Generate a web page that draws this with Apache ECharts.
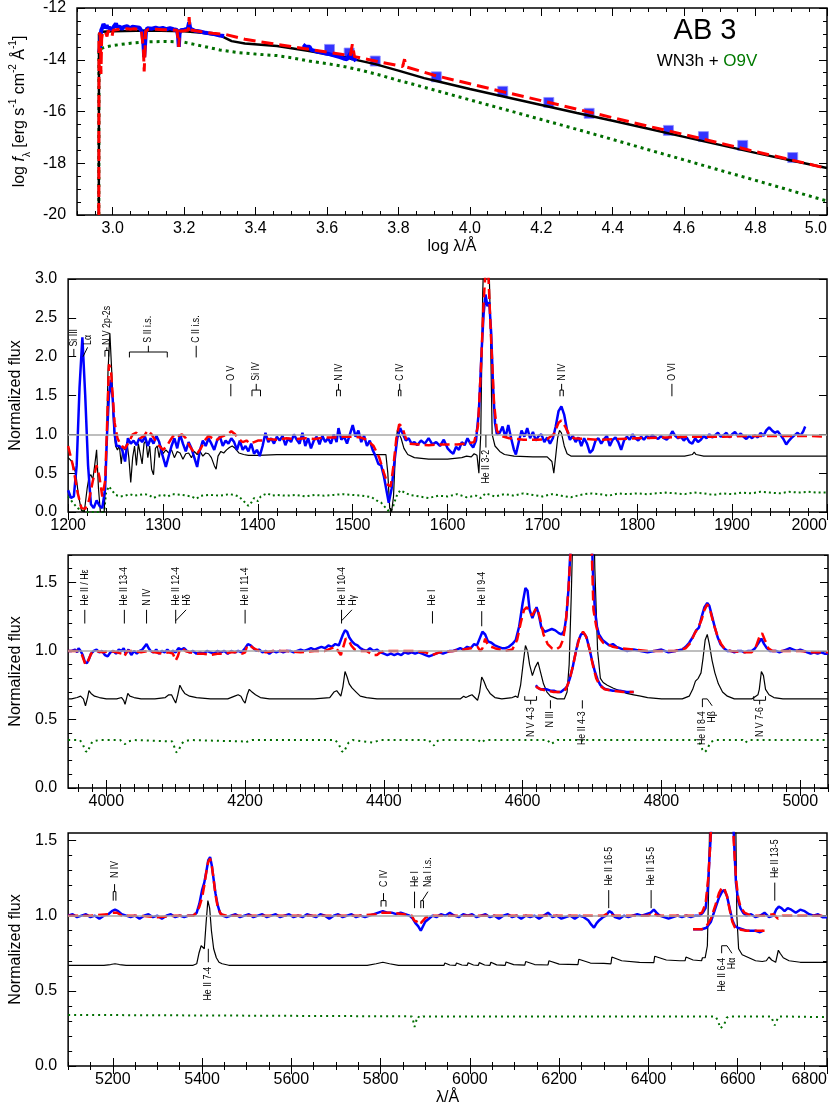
<!DOCTYPE html>
<html>
<head>
<meta charset="utf-8">
<script src="https://cdn.jsdelivr.net/npm/echarts@6.0.0/dist/echarts.min.js"></script>
<style>html,body{margin:0;padding:0;background:#fff}#main{width:830px;height:1110px}</style>
</head>
<body>
<div id="main"></div>
<script>
// ---------- panel 1 : SED, log lambda vs log f ----------
var sedBlueUV = [[2.962,-13.7],[2.964,-13.55],[2.966,-13.05],[2.968,-12.85],[2.971,-12.75],[2.974,-12.62],[2.977,-12.7],[2.98,-12.78],[2.983,-12.66],[2.986,-12.8],[2.989,-12.72],[2.992,-12.84],[2.995,-12.75],[2.998,-12.86],[3.001,-12.76],[3.005,-12.68],[3.009,-12.6],[3.013,-12.74],[3.017,-12.8],[3.021,-12.72],[3.025,-12.82],[3.03,-12.74],[3.035,-12.79],[3.04,-12.7],[3.045,-12.76],[3.05,-12.8],[3.055,-12.72],[3.06,-12.78],[3.065,-12.74],[3.07,-12.8],[3.075,-12.76],[3.08,-12.8],[3.083,-12.95],[3.086,-13.4],[3.088,-13.9],[3.09,-13.5],[3.093,-12.9],[3.097,-12.78],[3.1,-12.74],[3.11,-12.8],[3.12,-12.76],[3.13,-12.8],[3.14,-12.77],[3.15,-12.82],[3.16,-12.78],[3.17,-12.82],[3.18,-12.85],[3.183,-13.1],[3.185,-13.5],[3.187,-13.0],[3.19,-12.86],[3.2,-12.84],[3.21,-12.8],[3.214,-12.55],[3.217,-12.8],[3.22,-12.86],[3.23,-12.88],[3.24,-12.9],[3.25,-12.93],[3.26,-12.96],[3.27,-12.98],[3.28,-13.0],[3.29,-13.03],[3.3,-13.06],[3.312,-13.08]];
var sedBlueOpt = [[3.533,-13.42],[3.537,-13.35],[3.541,-13.5],[3.546,-13.56],[3.551,-13.5],[3.556,-13.62],[3.561,-13.58],[3.566,-13.66],[3.571,-13.6],[3.576,-13.7],[3.581,-13.64],[3.586,-13.72],[3.591,-13.68],[3.596,-13.76],[3.601,-13.7],[3.606,-13.78],[3.611,-13.74],[3.616,-13.82],[3.621,-13.78],[3.626,-13.86],[3.631,-13.8],[3.636,-13.9],[3.641,-13.84],[3.646,-13.95],[3.651,-13.88],[3.656,-13.98],[3.661,-13.92],[3.666,-13.75],[3.669,-13.95],[3.673,-14.02],[3.677,-13.96],[3.681,-14.06]];
var sedPhot = [[3.607,-13.6],[3.662,-13.74],[3.735,-14.05],[3.906,-14.66],[4.092,-15.22],[4.221,-15.65],[4.334,-16.07],[4.556,-16.73],[4.654,-16.97],[4.764,-17.31],[4.904,-17.78]];
var sedBlack = [[2.961,-20],[2.9615,-13.0],[2.97,-12.92],[3.0,-12.9],[3.1,-12.87],[3.2,-12.9],[3.25,-12.96],[3.3,-13.06],[3.333,-13.28],[3.37,-13.37],[3.46,-13.47],[3.55,-13.66],[3.64,-13.88],[3.735,-14.17],[3.8,-14.42],[3.872,-14.71],[3.9,-14.8],[4.0,-15.13],[4.1,-15.44],[4.2,-15.75],[4.3,-16.06],[4.4,-16.36],[4.5,-16.67],[4.6,-16.98],[4.7,-17.29],[4.8,-17.6],[4.9,-17.89],[5.0,-18.18]];
var sedRed = [[2.961,-20],[2.9615,-13.1],[2.964,-12.95],[2.966,-13.4],[2.967,-14.55],[2.969,-13.2],[2.972,-12.9],[2.976,-12.85],[2.98,-12.95],[2.984,-13.1],[2.987,-12.88],[2.99,-12.85],[2.995,-12.95],[2.998,-13.1],[3.001,-12.86],[3.01,-12.84],[3.02,-12.82],[3.03,-12.84],[3.04,-12.8],[3.05,-12.82],[3.06,-12.8],[3.07,-12.82],[3.08,-12.84],[3.084,-12.9],[3.086,-13.6],[3.088,-14.45],[3.09,-13.8],[3.092,-12.9],[3.1,-12.82],[3.12,-12.82],[3.14,-12.84],[3.16,-12.84],[3.18,-12.86],[3.183,-13.2],[3.185,-13.5],[3.187,-12.9],[3.2,-12.88],[3.212,-12.85],[3.214,-12.35],[3.216,-12.85],[3.22,-12.88],[3.24,-12.9],[3.26,-12.94],[3.28,-12.98],[3.315,-13.02],[3.37,-13.21],[3.461,-13.41],[3.552,-13.6],[3.644,-13.8],[3.665,-13.85],[3.671,-13.4],[3.677,-13.88],[3.735,-14.05],[3.812,-14.26],[3.817,-13.98],[3.822,-14.28],[3.872,-14.48],[3.9,-14.6],[4.0,-14.93],[4.1,-15.26],[4.2,-15.58],[4.3,-15.91],[4.4,-16.24],[4.5,-16.57],[4.6,-16.89],[4.7,-17.22],[4.8,-17.55],[4.9,-17.87],[5.0,-18.2]];
var sedGreen = [[2.961,-20],[2.9615,-13.6],[2.963,-13.55],[2.98,-13.5],[3.0,-13.45],[3.05,-13.36],[3.1,-13.31],[3.15,-13.29],[3.2,-13.32],[3.25,-13.47],[3.3,-13.62],[3.35,-13.72],[3.4,-13.78],[3.46,-13.84],[3.5,-13.92],[3.55,-14.05],[3.6,-14.15],[3.65,-14.27],[3.7,-14.42],[3.75,-14.6],[3.8,-14.8],[3.85,-14.98],[3.9,-15.17],[4.0,-15.55],[4.1,-15.93],[4.2,-16.31],[4.3,-16.69],[4.4,-17.08],[4.5,-17.48],[4.6,-17.87],[4.7,-18.27],[4.8,-18.66],[4.9,-19.06],[5.0,-19.46]];

// ---------- panel 2 : UV, normalized ----------
var uvBlue = [[1200,0.28],[1203,0.18],[1206,0.2],[1209,0.6],[1212,1.6],[1215,2.25],[1218,1.5],[1221,0.6],[1224,0.1],[1227,0.05],[1230,0.15],[1233,0.08],[1236,0.05],[1239,0.3],[1241,1.0],[1243,1.5],[1245,1.7],[1247,1.45],[1249,1.0],[1251,0.85],[1254,0.85],[1257,0.8],[1260,0.65],[1263,0.95],[1266,0.88],[1269,0.92],[1272,0.86],[1275,0.95],[1278,0.9],[1281,0.97],[1284,0.85],[1287,0.95],[1290,0.88],[1293,0.98],[1296,0.9],[1299,0.75],[1303,0.58],[1306,0.72],[1309,0.85],[1312,0.95],[1315,0.82],[1318,1.0],[1321,0.88],[1324,0.78],[1327,0.9],[1330,0.82],[1333,0.7],[1336,0.58],[1339,0.8],[1342,0.92],[1345,0.85],[1348,0.95],[1351,0.88],[1354,0.8],[1357,0.92],[1360,0.97],[1363,0.85],[1366,0.92],[1369,0.88],[1372,0.95],[1375,0.9],[1378,0.8],[1381,0.92],[1384,0.8],[1387,0.85],[1390,0.78],[1393,0.88],[1396,0.75],[1399,0.8],[1402,0.72],[1405,0.85],[1408,1.02],[1411,0.9],[1414,0.95],[1417,0.88],[1420,0.97],[1423,0.92],[1426,0.98],[1429,0.86],[1432,0.95],[1435,0.9],[1438,1.0],[1441,0.93],[1444,0.88],[1447,1.02],[1450,0.85],[1453,0.95],[1456,0.82],[1459,0.92],[1462,0.97],[1465,0.87],[1468,0.98],[1471,0.9],[1474,0.95],[1477,0.88],[1480,1.0],[1483,0.9],[1485,1.08],[1488,0.93],[1491,0.97],[1494,0.88],[1497,1.0],[1500,1.12],[1503,0.97],[1506,1.05],[1509,0.9],[1512,0.98],[1515,0.85],[1518,0.92],[1521,0.8],[1524,0.72],[1527,0.62],[1530,0.6],[1533,0.45],[1536,0.25],[1538,0.12],[1541,0.3],[1544,0.65],[1547,0.95],[1550,1.08],[1553,1.0],[1556,0.92],[1559,0.95],[1562,0.88],[1565,0.9],[1568,0.86],[1572,0.92],[1576,0.88],[1580,0.95],[1584,0.87],[1588,0.9],[1592,0.85],[1596,0.93],[1600,0.82],[1603,0.78],[1606,0.75],[1609,0.84],[1612,0.8],[1615,0.9],[1618,0.86],[1621,0.95],[1624,0.88],[1627,0.83],[1630,0.92],[1633,1.3],[1636,2.1],[1638,2.55],[1640,2.8],[1642,2.65],[1644,2.7],[1646,2.3],[1648,1.6],[1650,1.15],[1652,1.0],[1655,1.02],[1658,1.1],[1661,0.96],[1664,1.12],[1667,0.95],[1670,0.8],[1672,0.74],[1675,0.9],[1678,1.05],[1681,0.97],[1684,1.08],[1687,0.95],[1690,1.03],[1693,0.92],[1696,0.98],[1699,1.0],[1702,0.9],[1705,0.96],[1708,0.88],[1711,0.95],[1714,1.1],[1717,1.3],[1720,1.36],[1723,1.25],[1726,1.05],[1729,0.93],[1732,0.98],[1735,0.9],[1738,0.96],[1741,0.85],[1744,0.95],[1747,0.88],[1750,0.76],[1753,0.8],[1756,0.92],[1759,0.95],[1762,0.88],[1765,0.94],[1768,0.98],[1771,0.85],[1774,0.93],[1777,0.96],[1780,0.9],[1783,0.8],[1786,0.92],[1789,0.97],[1792,0.93],[1795,1.0],[1798,0.95],[1801,0.92],[1804,0.97],[1807,0.93],[1810,0.98],[1813,0.95],[1816,0.99],[1819,0.96],[1822,0.94],[1825,0.98],[1828,0.95],[1831,0.93],[1834,0.97],[1837,1.04],[1840,0.98],[1843,0.95],[1846,0.97],[1849,0.92],[1852,0.96],[1855,0.9],[1858,0.88],[1861,0.95],[1864,0.9],[1867,0.93],[1870,0.98],[1873,0.95],[1876,1.0],[1879,0.96],[1882,0.99],[1885,1.02],[1888,0.97],[1891,0.99],[1894,1.02],[1897,0.96],[1900,1.0],[1903,1.03],[1906,0.98],[1909,1.01],[1912,0.97],[1915,0.94],[1918,0.98],[1921,0.95],[1924,0.99],[1927,0.96],[1930,1.02],[1933,0.98],[1936,1.05],[1939,1.09],[1942,1.05],[1945,1.02],[1948,1.04],[1951,0.99],[1954,0.94],[1957,0.87],[1960,0.92],[1963,0.96],[1966,0.99],[1969,1.02],[1972,0.98],[1975,1.04],[1977,1.1]];
var uvRed = [[1200,0.85],[1205,0.6],[1210,0.25],[1214,0.05],[1218,0.04],[1222,0.15],[1226,0.4],[1230,0.6],[1233,0.45],[1236,0.2],[1239,0.4],[1241,1.1],[1243,1.9],[1245,1.85],[1247,1.5],[1249,1.15],[1252,0.95],[1256,0.85],[1260,0.82],[1264,0.9],[1268,1.0],[1272,1.02],[1276,0.95],[1280,0.98],[1284,1.05],[1288,1.0],[1292,0.92],[1296,0.85],[1300,0.8],[1304,0.85],[1308,0.93],[1312,1.0],[1316,0.98],[1320,1.0],[1324,0.95],[1328,0.85],[1332,0.78],[1336,0.75],[1340,0.82],[1344,0.92],[1348,0.98],[1352,0.95],[1356,0.92],[1360,0.96],[1364,0.98],[1368,1.0],[1372,1.04],[1376,1.0],[1380,0.94],[1384,0.9],[1388,0.92],[1392,0.88],[1396,0.9],[1400,0.92],[1405,0.92],[1410,0.94],[1420,0.93],[1430,0.95],[1440,0.94],[1450,0.95],[1460,0.94],[1470,0.96],[1480,0.96],[1490,0.97],[1500,0.97],[1508,0.96],[1515,0.93],[1522,0.85],[1528,0.7],[1533,0.5],[1537,0.35],[1540,0.33],[1543,0.6],[1546,0.95],[1549,1.13],[1552,1.1],[1556,0.95],[1560,0.88],[1570,0.87],[1580,0.86],[1590,0.87],[1600,0.87],[1610,0.87],[1620,0.88],[1628,0.9],[1632,1.1],[1635,1.8],[1638,2.7],[1640,3.1],[1643,3.05],[1646,2.2],[1649,1.4],[1652,1.05],[1656,0.98],[1665,0.95],[1680,0.93],[1695,0.93],[1705,0.94],[1712,1.0],[1717,1.15],[1720,1.18],[1724,1.1],[1728,1.0],[1733,0.95],[1745,0.94],[1760,0.93],[1780,0.94],[1800,0.95],[1830,0.96],[1860,0.97],[1890,0.97],[1920,0.98],[1950,0.98],[1980,0.98],[2000,0.97]];
var uvBlack = [[1200,0.7],[1204,0.65],[1208,0.5],[1211,0.2],[1214,0.02],[1217,0.0],[1220,0.3],[1222,0.45],[1224,0.48],[1226,0.42],[1228,0.6],[1230,0.8],[1232,0.3],[1234,0.0],[1238,0.0],[1240,0.6],[1242,1.8],[1244,2.3],[1246,1.8],[1248,1.1],[1250,0.85],[1252,0.8],[1254,0.85],[1256,0.62],[1258,0.85],[1260,0.8],[1262,0.9],[1264,0.7],[1266,0.38],[1268,0.7],[1270,0.85],[1272,0.6],[1274,0.88],[1276,0.9],[1278,0.62],[1280,0.88],[1282,0.92],[1284,0.7],[1286,0.85],[1288,0.55],[1290,0.48],[1292,0.82],[1294,0.85],[1296,0.7],[1298,0.85],[1300,0.75],[1303,0.8],[1306,0.76],[1309,0.8],[1312,0.7],[1315,0.78],[1318,0.76],[1321,0.68],[1324,0.75],[1327,0.76],[1330,0.7],[1333,0.78],[1336,0.74],[1339,0.78],[1342,0.72],[1345,0.76],[1348,0.75],[1351,0.7],[1354,0.6],[1356,0.55],[1358,0.72],[1361,0.78],[1364,0.76],[1367,0.8],[1370,0.83],[1373,0.85],[1376,0.82],[1380,0.76],[1385,0.74],[1390,0.73],[1400,0.73],[1420,0.74],[1450,0.74],[1480,0.74],[1500,0.74],[1520,0.74],[1535,0.74],[1537,0.5],[1539,0.05],[1541,0.0],[1543,0.2],[1545,0.75],[1547,1.05],[1549,1.07],[1551,0.95],[1554,0.82],[1558,0.74],[1565,0.7],[1580,0.68],[1600,0.68],[1615,0.7],[1620,0.72],[1625,0.71],[1628,0.75],[1631,0.73],[1633,0.5],[1635,1.0],[1637,2.8],[1639,3.6],[1643,3.6],[1645,2.5],[1647,1.0],[1650,0.85],[1655,0.78],[1660,0.74],[1670,0.72],[1690,0.71],[1705,0.71],[1710,0.65],[1712,0.5],[1714,0.72],[1716,0.95],[1718,1.05],[1720,1.02],[1723,0.85],[1726,0.75],[1730,0.72],[1750,0.72],[1800,0.72],[1850,0.72],[1858,0.74],[1860,0.77],[1862,0.74],[1870,0.72],[1900,0.72],[1950,0.72],[2000,0.72]];
var uvGreen = [[1200,0.2],[1205,0.12],[1210,0.05],[1215,0.02],[1220,0.0],[1230,0.0],[1238,0.0],[1240,0.25],[1243,0.33],[1246,0.28],[1250,0.22],[1255,0.2],[1260,0.21],[1265,0.23],[1270,0.21],[1275,0.22],[1280,0.23],[1285,0.22],[1290,0.18],[1295,0.21],[1300,0.22],[1305,0.2],[1310,0.23],[1320,0.22],[1330,0.2],[1335,0.17],[1340,0.21],[1350,0.22],[1360,0.21],[1370,0.23],[1375,0.22],[1380,0.2],[1385,0.14],[1390,0.08],[1393,0.12],[1396,0.18],[1400,0.14],[1403,0.2],[1406,0.22],[1410,0.24],[1415,0.21],[1420,0.22],[1430,0.21],[1440,0.22],[1450,0.2],[1460,0.22],[1470,0.21],[1480,0.22],[1490,0.23],[1500,0.22],[1510,0.21],[1520,0.19],[1525,0.15],[1530,0.12],[1535,0.05],[1539,0.0],[1542,0.05],[1546,0.2],[1550,0.28],[1555,0.25],[1560,0.22],[1570,0.2],[1580,0.18],[1590,0.21],[1600,0.2],[1610,0.23],[1620,0.19],[1630,0.21],[1635,0.18],[1640,0.24],[1645,0.22],[1650,0.2],[1660,0.23],[1670,0.21],[1680,0.24],[1690,0.22],[1700,0.2],[1710,0.23],[1720,0.21],[1730,0.19],[1740,0.22],[1750,0.24],[1760,0.23],[1770,0.21],[1780,0.24],[1790,0.23],[1800,0.24],[1810,0.23],[1820,0.24],[1830,0.25],[1840,0.24],[1850,0.23],[1860,0.25],[1870,0.24],[1880,0.22],[1890,0.24],[1900,0.23],[1910,0.25],[1920,0.24],[1930,0.26],[1940,0.25],[1950,0.24],[1960,0.26],[1970,0.25],[1980,0.26],[1990,0.25],[2000,0.25]];

// ---------- panel 3 : blue optical ----------
var optBlue = [[3945,1.0],[3950,1.0],[3955,1.01],[3958,0.99],[3960,1.02],[3963,1.0],[3966,0.97],[3969,0.92],[3972,0.91],[3975,0.94],[3978,0.98],[3982,1.0],[3986,1.01],[3990,0.99],[3994,1.0],[3998,0.97],[4002,0.96],[4006,0.99],[4010,1.0],[4014,0.98],[4018,1.01],[4022,1.0],[4025,1.02],[4028,0.98],[4032,1.01],[4036,0.97],[4040,1.0],[4044,0.98],[4048,1.0],[4052,1.01],[4055,1.03],[4058,1.05],[4061,1.02],[4064,1.0],[4068,0.99],[4072,1.01],[4076,0.98],[4080,1.0],[4084,0.99],[4088,1.01],[4092,0.99],[4096,1.0],[4100,0.99],[4104,1.02],[4108,1.01],[4112,1.02],[4116,1.0],[4120,0.99],[4125,1.0],[4130,0.98],[4135,0.99],[4140,0.98],[4145,1.0],[4150,0.99],[4155,0.98],[4160,1.0],[4165,0.99],[4170,1.0],[4175,0.98],[4180,1.0],[4185,0.99],[4190,1.0],[4195,0.99],[4200,1.02],[4204,1.05],[4208,1.04],[4212,1.02],[4216,1.0],[4220,1.01],[4225,0.99],[4230,1.0],[4235,0.98],[4240,1.0],[4245,0.99],[4250,1.0],[4255,0.99],[4260,1.0],[4265,1.0],[4270,0.99],[4275,1.0],[4280,1.01],[4285,1.0],[4290,1.01],[4295,1.02],[4300,1.01],[4305,1.02],[4310,1.03],[4315,1.02],[4320,1.04],[4325,1.03],[4330,1.05],[4335,1.04],[4338,1.08],[4341,1.12],[4344,1.15],[4347,1.14],[4350,1.1],[4354,1.07],[4358,1.05],[4362,1.04],[4366,1.02],[4370,1.01],[4375,1.0],[4380,1.02],[4385,1.0],[4390,1.01],[4395,0.99],[4400,0.98],[4405,0.97],[4410,0.98],[4415,0.97],[4420,0.98],[4425,0.97],[4430,0.99],[4435,0.98],[4440,0.99],[4445,0.98],[4450,0.99],[4455,0.98],[4460,0.97],[4465,0.96],[4470,0.97],[4475,0.98],[4480,0.99],[4485,0.98],[4490,0.99],[4495,1.0],[4500,1.0],[4505,1.01],[4510,1.02],[4515,1.01],[4520,1.03],[4525,1.02],[4530,1.05],[4534,1.04],[4538,1.09],[4542,1.14],[4546,1.12],[4550,1.07],[4555,1.06],[4560,1.04],[4565,1.03],[4570,1.02],[4575,1.02],[4580,1.03],[4585,1.05],[4590,1.08],[4595,1.18],[4600,1.35],[4604,1.46],[4607,1.44],[4610,1.3],[4614,1.24],[4617,1.28],[4620,1.32],[4623,1.27],[4627,1.17],[4632,1.14],[4637,1.15],[4642,1.16],[4647,1.15],[4652,1.13],[4656,1.12],[4660,1.15],[4663,1.25],[4666,1.45],[4669,1.75],[4672,2.2],[4680,2.6],[4690,2.7],[4698,2.2],[4701,1.6],[4704,1.3],[4707,1.18],[4710,1.12],[4715,1.08],[4720,1.06],[4725,1.04],[4730,1.05],[4735,1.03],[4740,1.02],[4745,1.01],[4750,1.0],[4760,1.01],[4770,1.0],[4780,0.99],[4790,1.0],[4800,1.01],[4810,0.99],[4820,1.0],[4830,1.01],[4835,1.03],[4840,1.06],[4845,1.1],[4850,1.15],[4854,1.17],[4858,1.25],[4862,1.32],[4866,1.35],[4869,1.33],[4873,1.25],[4877,1.17],[4881,1.1],[4885,1.05],[4890,1.02],[4895,1.0],[4900,1.0],[4905,0.99],[4910,1.0],[4915,1.0],[4920,0.99],[4925,1.0],[4930,1.0],[4935,1.02],[4940,1.06],[4944,1.09],[4948,1.05],[4952,1.02],[4956,1.0],[4960,1.0],[4965,1.0],[4970,0.99],[4975,1.0],[4980,1.01],[4985,1.02],[4990,1.01],[4995,1.0],[5000,1.01],[5005,1.0],[5010,0.99],[5015,0.98],[5020,0.99],[5025,0.98],[5030,0.99],[5035,0.98],[5040,0.98]];
var optRed = [[3945,1.0],[3960,1.0],[3965,0.97],[3970,0.9],[3974,0.93],[3978,0.98],[3985,1.0],[3995,0.99],[4005,1.0],[4015,0.99],[4022,0.98],[4026,0.96],[4030,1.0],[4040,1.0],[4050,0.99],[4060,1.0],[4070,0.99],[4080,0.98],[4090,0.99],[4096,0.98],[4100,0.93],[4103,0.96],[4106,1.01],[4110,1.02],[4114,1.0],[4120,0.99],[4130,0.98],[4140,0.98],[4150,0.97],[4160,0.98],[4170,0.98],[4180,0.99],[4190,0.99],[4196,0.98],[4200,0.99],[4203,1.04],[4207,1.04],[4212,1.02],[4220,1.0],[4230,0.99],[4240,1.0],[4260,1.0],[4280,0.99],[4300,1.0],[4315,1.0],[4325,1.02],[4330,1.03],[4334,1.0],[4338,0.97],[4341,1.02],[4345,1.09],[4349,1.08],[4353,1.04],[4358,1.01],[4365,1.0],[4375,1.0],[4385,0.97],[4390,0.97],[4395,0.99],[4400,1.0],[4420,1.0],[4440,1.0],[4460,0.99],[4470,0.97],[4475,0.98],[4480,0.99],[4500,1.0],[4515,1.01],[4525,1.02],[4535,1.03],[4539,1.0],[4542,1.02],[4546,1.09],[4550,1.04],[4560,1.02],[4575,1.0],[4585,1.01],[4592,1.08],[4597,1.2],[4602,1.3],[4606,1.32],[4610,1.28],[4614,1.26],[4618,1.3],[4621,1.31],[4625,1.24],[4630,1.12],[4636,1.05],[4642,1.02],[4648,1.01],[4654,1.03],[4658,1.08],[4662,1.2],[4666,1.45],[4670,1.8],[4675,2.5],[4690,2.8],[4698,2.0],[4702,1.3],[4706,1.18],[4710,1.1],[4716,1.06],[4722,1.05],[4730,1.03],[4740,1.02],[4760,1.01],[4780,1.0],[4800,1.0],[4820,1.0],[4835,1.02],[4842,1.06],[4848,1.13],[4853,1.17],[4858,1.23],[4862,1.3],[4866,1.34],[4870,1.3],[4875,1.2],[4880,1.12],[4886,1.05],[4892,1.01],[4900,1.0],[4920,0.99],[4930,0.99],[4936,1.03],[4941,1.1],[4945,1.13],[4949,1.08],[4954,1.02],[4960,1.0],[4980,1.0],[5000,1.0],[5020,0.99],[5040,0.99]];
var optBlack = [[3945,0.65],[3950,0.65],[3958,0.66],[3963,0.67],[3967,0.65],[3970,0.6],[3973,0.66],[3975,0.71],[3978,0.69],[3983,0.67],[3990,0.66],[4000,0.65],[4015,0.65],[4022,0.66],[4025,0.64],[4027,0.61],[4029,0.65],[4031,0.69],[4034,0.67],[4040,0.66],[4050,0.65],[4070,0.65],[4085,0.66],[4090,0.68],[4094,0.68],[4097,0.65],[4100,0.62],[4103,0.68],[4106,0.75],[4109,0.72],[4113,0.69],[4120,0.67],[4130,0.66],[4150,0.65],[4175,0.65],[4185,0.67],[4190,0.68],[4194,0.67],[4197,0.64],[4200,0.62],[4203,0.68],[4206,0.72],[4210,0.7],[4215,0.68],[4222,0.66],[4235,0.65],[4260,0.65],[4300,0.65],[4322,0.66],[4328,0.7],[4332,0.71],[4335,0.69],[4338,0.67],[4341,0.74],[4344,0.85],[4347,0.81],[4350,0.76],[4354,0.73],[4360,0.7],[4366,0.67],[4375,0.66],[4390,0.65],[4450,0.65],[4510,0.65],[4515,0.67],[4518,0.66],[4522,0.67],[4527,0.68],[4531,0.66],[4535,0.64],[4538,0.7],[4541,0.81],[4544,0.78],[4548,0.73],[4553,0.69],[4560,0.66],[4570,0.65],[4585,0.66],[4590,0.67],[4593,0.66],[4597,0.75],[4601,0.92],[4604,1.04],[4607,1.0],[4610,0.9],[4614,0.82],[4618,0.88],[4622,0.92],[4626,0.84],[4630,0.76],[4635,0.7],[4640,0.67],[4650,0.65],[4660,0.65],[4664,0.7],[4667,0.9],[4670,1.4],[4673,2.0],[4680,2.6],[4700,2.6],[4704,1.6],[4708,1.0],[4712,0.8],[4716,0.77],[4722,0.75],[4730,0.73],[4740,0.71],[4750,0.69],[4760,0.68],[4770,0.67],[4780,0.66],[4800,0.65],[4830,0.65],[4840,0.67],[4845,0.72],[4849,0.78],[4853,0.8],[4857,0.84],[4860,0.95],[4863,1.08],[4866,1.12],[4869,1.05],[4873,0.93],[4877,0.84],[4882,0.76],[4888,0.7],[4895,0.67],[4905,0.65],[4930,0.65],[4936,0.67],[4939,0.68],[4941,0.72],[4944,0.85],[4947,0.82],[4950,0.72],[4955,0.68],[4962,0.66],[4975,0.65],[5040,0.65]];
var optGreen = [[3945,0.35],[3962,0.35],[3966,0.32],[3970,0.27],[3973,0.26],[3976,0.3],[3980,0.34],[3990,0.35],[4020,0.35],[4024,0.33],[4027,0.32],[4031,0.34],[4040,0.35],[4095,0.34],[4098,0.3],[4101,0.26],[4104,0.27],[4108,0.32],[4112,0.34],[4120,0.35],[4197,0.34],[4200,0.33],[4204,0.34],[4210,0.35],[4330,0.35],[4335,0.32],[4339,0.27],[4342,0.26],[4345,0.29],[4349,0.33],[4355,0.35],[4385,0.33],[4389,0.34],[4395,0.35],[4465,0.35],[4469,0.32],[4472,0.31],[4476,0.34],[4480,0.35],[4536,0.35],[4541,0.33],[4545,0.35],[4636,0.35],[4640,0.32],[4644,0.33],[4650,0.35],[4684,0.35],[4687,0.34],[4690,0.35],[4850,0.35],[4856,0.32],[4859,0.28],[4862,0.26],[4866,0.28],[4870,0.33],[4876,0.35],[4917,0.35],[4921,0.33],[4925,0.35],[5040,0.35]];
var heiiBlue = [[4619,0.75],[4622,0.73],[4626,0.72],[4630,0.72],[4635,0.72],[4640,0.71],[4645,0.71],[4650,0.7],[4655,0.7],[4660,0.72],[4664,0.74],[4668,0.8],[4672,0.88],[4676,0.98],[4680,1.07],[4684,1.12],[4688,1.13],[4692,1.1],[4696,1.02],[4700,0.93],[4704,0.85],[4708,0.79],[4712,0.75],[4716,0.73],[4720,0.72],[4730,0.71],[4740,0.71],[4750,0.7],[4760,0.7]];
var heiiRed = [[4619,0.74],[4626,0.72],[4635,0.71],[4645,0.7],[4655,0.7],[4662,0.72],[4667,0.78],[4672,0.88],[4677,1.0],[4682,1.1],[4687,1.14],[4691,1.11],[4696,1.02],[4701,0.9],[4706,0.8],[4711,0.75],[4718,0.72],[4730,0.71],[4745,0.7],[4760,0.7]];

// ---------- panel 4 : red optical ----------
var p4Blue = [[5100,1.0],[5110,1.01],[5120,0.99],[5130,1.0],[5140,1.01],[5150,0.99],[5160,1.0],[5170,0.98],[5180,1.0],[5190,1.01],[5198,1.03],[5205,1.04],[5212,1.03],[5220,1.01],[5230,1.0],[5240,0.99],[5250,1.0],[5260,0.98],[5270,1.0],[5280,1.01],[5290,0.99],[5300,1.0],[5310,0.98],[5320,1.0],[5330,1.01],[5340,0.99],[5350,1.0],[5360,0.99],[5370,1.0],[5380,1.0],[5388,1.02],[5394,1.08],[5400,1.17],[5405,1.22],[5410,1.3],[5414,1.37],[5418,1.39],[5422,1.33],[5426,1.24],[5430,1.15],[5435,1.07],[5440,1.02],[5446,1.0],[5455,0.99],[5465,1.0],[5475,1.01],[5485,0.99],[5495,1.0],[5505,1.01],[5515,0.99],[5525,1.0],[5535,1.01],[5545,0.99],[5555,1.0],[5565,1.01],[5575,0.99],[5585,1.0],[5595,1.01],[5605,0.99],[5615,1.0],[5625,0.99],[5635,1.01],[5645,1.0],[5655,0.99],[5665,1.01],[5675,1.0],[5685,0.98],[5695,1.0],[5705,1.01],[5715,0.99],[5725,1.0],[5735,1.01],[5745,0.99],[5755,1.0],[5765,0.99],[5775,1.0],[5785,1.01],[5795,1.02],[5805,1.03],[5815,1.02],[5825,1.02],[5835,1.01],[5845,1.02],[5855,1.01],[5865,1.0],[5872,0.98],[5878,0.95],[5884,0.93],[5890,0.9],[5895,0.93],[5900,0.96],[5908,0.98],[5916,1.0],[5925,0.99],[5935,1.01],[5945,1.0],[5955,1.02],[5965,1.0],[5975,0.99],[5985,1.01],[5995,1.0],[6005,1.01],[6015,0.99],[6025,1.0],[6035,1.01],[6045,0.99],[6055,1.0],[6065,0.98],[6075,1.0],[6085,1.01],[6095,0.99],[6105,1.0],[6115,0.98],[6125,1.0],[6135,0.99],[6145,1.0],[6155,0.98],[6165,1.0],[6175,1.02],[6185,0.99],[6195,1.0],[6205,0.98],[6215,0.99],[6225,1.0],[6235,0.98],[6245,1.0],[6255,0.99],[6265,0.97],[6272,0.94],[6278,0.92],[6284,0.95],[6290,0.97],[6298,0.99],[6305,1.0],[6312,1.03],[6318,1.02],[6325,0.99],[6335,0.98],[6345,1.0],[6355,0.99],[6365,1.0],[6375,1.01],[6385,1.0],[6395,1.01],[6405,1.02],[6412,1.04],[6418,1.02],[6425,1.0],[6435,0.99],[6445,0.98],[6455,0.99],[6465,1.0],[6475,0.99],[6485,1.0],[6495,0.99],[6505,1.0],[6515,1.0],[6522,1.02],[6528,1.05],[6533,1.18],[6537,1.4],[6541,1.6],[6546,1.9],[6586,1.9],[6591,1.55],[6596,1.22],[6601,1.1],[6606,1.05],[6612,1.02],[6620,1.0],[6630,1.01],[6640,0.99],[6650,1.0],[6660,1.02],[6670,0.99],[6680,1.0],[6686,1.04],[6692,1.06],[6698,1.05],[6705,1.03],[6712,1.05],[6720,1.04],[6730,1.02],[6740,1.04],[6750,1.03],[6760,1.01],[6770,1.0],[6780,1.01],[6790,0.99],[6800,0.99]];
var p4Red = [[5100,1.0],[5150,1.0],[5190,1.01],[5200,1.02],[5210,1.02],[5220,1.0],[5260,1.0],[5300,0.99],[5340,1.0],[5380,1.0],[5388,1.02],[5394,1.06],[5400,1.12],[5405,1.2],[5410,1.3],[5414,1.36],[5418,1.38],[5422,1.33],[5426,1.24],[5430,1.14],[5435,1.06],[5442,1.01],[5455,1.0],[5550,1.0],[5650,1.0],[5750,1.0],[5790,1.01],[5800,1.02],[5812,1.02],[5825,1.02],[5850,1.01],[5870,1.0],[5875,0.97],[5880,0.96],[5886,0.97],[5890,0.95],[5896,0.97],[5902,0.99],[5915,1.0],[6000,1.0],[6100,1.0],[6200,1.0],[6300,1.0],[6312,1.02],[6320,1.0],[6400,1.0],[6410,1.02],[6420,1.0],[6500,1.0],[6520,1.02],[6528,1.08],[6534,1.25],[6538,1.45],[6542,1.7],[6546,1.9],[6586,1.9],[6591,1.5],[6596,1.25],[6601,1.12],[6606,1.06],[6615,1.02],[6630,1.0],[6660,1.0],[6680,1.01],[6690,0.98],[6700,1.0],[6720,1.0],[6760,1.0],[6800,1.0]];
var p4Black = [[5100,0.67],[5180,0.67],[5195,0.675],[5205,0.68],[5215,0.675],[5230,0.67],[5380,0.67],[5388,0.68],[5393,0.75],[5398,0.8],[5402,0.79],[5405,0.78],[5409,0.95],[5413,1.1],[5417,1.05],[5421,0.9],[5426,0.78],[5432,0.72],[5438,0.69],[5445,0.68],[5460,0.67],[5770,0.67],[5790,0.68],[5805,0.69],[5820,0.68],[5840,0.67],[5942,0.67],[5944,0.685],[5955,0.672],[5968,0.67],[5970,0.685],[5982,0.672],[5994,0.67],[5996,0.687],[6008,0.672],[6019,0.67],[6021,0.688],[6033,0.672],[6045,0.67],[6047,0.69],[6060,0.673],[6079,0.67],[6081,0.692],[6098,0.674],[6123,0.671],[6125,0.695],[6145,0.675],[6175,0.672],[6177,0.7],[6200,0.678],[6242,0.675],[6244,0.71],[6270,0.685],[6300,0.683],[6316,0.68],[6318,0.725],[6340,0.7],[6380,0.69],[6412,0.688],[6414,0.73],[6440,0.705],[6470,0.7],[6482,0.7],[6484,0.725],[6500,0.705],[6519,0.7],[6521,0.72],[6527,0.72],[6532,0.8],[6535,1.2],[6538,1.8],[6595,1.8],[6598,1.0],[6602,0.78],[6610,0.74],[6625,0.72],[6640,0.7],[6655,0.695],[6664,0.7],[6670,0.725],[6676,0.705],[6685,0.69],[6688,0.7],[6691,0.77],[6695,0.75],[6702,0.72],[6715,0.7],[6740,0.69],[6760,0.69],[6785,0.69],[6788,0.7],[6792,0.69],[6800,0.69]];
var p4Green = [[5100,0.34],[5500,0.335],[5870,0.33],[5873,0.3],[5876,0.26],[5879,0.29],[5882,0.33],[5890,0.32],[5895,0.33],[6550,0.33],[6556,0.3],[6561,0.25],[6565,0.24],[6569,0.27],[6575,0.32],[6580,0.33],[6675,0.33],[6680,0.29],[6683,0.27],[6687,0.3],[6692,0.33],[6800,0.325]];
var haBlue = [[6500,0.91],[6510,0.91],[6520,0.91],[6530,0.92],[6540,0.96],[6550,1.05],[6558,1.12],[6565,1.16],[6570,1.17],[6576,1.13],[6582,1.05],[6588,0.97],[6594,0.93],[6600,0.92],[6610,0.91],[6620,0.9],[6630,0.9],[6640,0.9],[6650,0.89],[6657,0.9]];
var haRed = [[6500,0.91],[6520,0.91],[6530,0.93],[6540,0.98],[6550,1.07],[6558,1.15],[6565,1.19],[6570,1.18],[6576,1.13],[6582,1.04],[6588,0.96],[6594,0.92],[6600,0.91],[6620,0.9],[6640,0.9],[6662,0.9]];

// tick labels
var sedXTicks = [3.0, 3.2, 3.4, 3.6, 3.8, 4.0, 4.2, 4.4, 4.6, 4.8, 5.0];
var sedYTicks = [-20, -18, -16, -14, -12];
var uvXTicks = [1200, 1300, 1400, 1500, 1600, 1700, 1800, 1900, 2000];
var uvYTicks = [0, 0.5, 1.0, 1.5, 2.0, 2.5, 3.0];
var optXTicks = [4000, 4200, 4400, 4600, 4800, 5000];
var p4XTicks = [5200, 5400, 5600, 5800, 6000, 6200, 6400, 6600, 6800];
var nfYTicks = [0, 0.5, 1.0, 1.5];

// line identifications
function tick(x, y0, y1, yt, t) { return {segs: [[x, y0, x, y1]], texts: [[x, yt, t, yt < y0]]}; }
function pair(xa, xb, y0, yb, y1, yt, t) {
  var xm = (xa + xb) / 2;
  return {segs: [[xa, y0, xa, yb], [xb, y0, xb, yb], [xa, yb, xb, yb], [xm, yb, xm, y1]], texts: [[xm, yt, t, yt < y0]]};
}
var uvIds = [
  tick(1206, 2.0, 2.1, 2.13, 'Si III'),
  {segs: [[1215.7, 2.0, 1220.5, 2.12]], texts: [[1220.5, 2.15, 'L\u03b1', false]]},
  pair(1238.8, 1242.8, 2.0, 2.08, 2.12, 2.15, 'N V 2p-2s'),
  pair(1264.6, 1304.5, 1.99, 2.06, 2.14, 2.18, 'S II i.s.'),
  tick(1335, 1.99, 2.14, 2.18, 'C II i.s.'),
  tick(1371.5, 1.49, 1.65, 1.69, 'O V'),
  pair(1393.8, 1402.8, 1.49, 1.57, 1.65, 1.69, 'Si IV'),
  pair(1483, 1487, 1.49, 1.57, 1.65, 1.69, 'N IV'),
  pair(1548.2, 1550.8, 1.49, 1.57, 1.65, 1.69, 'C IV'),
  tick(1640.4, 0.99, 0.83, 0.8, 'He II 3-2'),
  pair(1718.5, 1722, 1.49, 1.57, 1.65, 1.69, 'N IV'),
  tick(1836.5, 1.49, 1.65, 1.69, 'O VI')
];
var optIds = [
  tick(3969, 1.2, 1.3, 1.33, 'He II / H\u03b5'),
  tick(4026, 1.2, 1.3, 1.33, 'He II 13-4'),
  tick(4058, 1.2, 1.3, 1.33, 'N IV'),
  {segs: [[4100, 1.2, 4100, 1.3], [4100, 1.22, 4115, 1.3]], texts: [[4100, 1.33, 'He II 12-4', false], [4116, 1.33, 'H\u03b4', false]]},
  tick(4200, 1.2, 1.3, 1.33, 'He II 11-4'),
  {segs: [[4339, 1.2, 4339, 1.3], [4339, 1.22, 4354, 1.3]], texts: [[4339, 1.33, 'He II 10-4', false], [4355, 1.33, 'H\u03b3', false]]},
  tick(4470, 1.2, 1.29, 1.33, 'He I'),
  tick(4541, 1.18, 1.29, 1.33, 'He II 9-4'),
  pair(4603, 4620, 0.67, 0.64, 0.61, 0.59, 'N V 4-3'),
  tick(4640, 0.64, 0.58, 0.56, 'N III'),
  tick(4686, 0.64, 0.58, 0.56, 'He II 4-3'),
  {segs: [[4859, 0.65, 4859, 0.59], [4859, 0.65, 4866, 0.65], [4866, 0.65, 4873, 0.6]], texts: [[4859, 0.56, 'He II 8-4', true], [4873, 0.56, 'H\u03b2', true]]},
  pair(4933, 4950, 0.67, 0.64, 0.61, 0.59, 'N V 7-6')
];
var p4Ids = [
  pair(5201, 5207, 1.10, 1.16, 1.21, 1.25, 'N IV'),
  pair(5801, 5812, 1.06, 1.10, 1.15, 1.19, 'C IV'),
  tick(5876, 1.05, 1.16, 1.19, 'He I'),
  {segs: [[5890, 1.05, 5890, 1.10], [5896, 1.05, 5896, 1.10], [5890, 1.10, 5896, 1.10], [5893, 1.10, 5906, 1.16]], texts: [[5907, 1.19, 'Na I i.s.', false]]},
  tick(6311, 1.05, 1.17, 1.2, 'He II 16-5'),
  tick(6406, 1.05, 1.17, 1.2, 'He II 15-5'),
  tick(6683, 1.10, 1.22, 1.25, 'He II 13-5'),
  tick(5414, 0.78, 0.69, 0.66, 'He II 7-4'),
  {segs: [[6564, 0.8, 6564, 0.75], [6564, 0.8, 6576, 0.8], [6576, 0.8, 6587, 0.75]], texts: [[6564, 0.72, 'He II 6-4', true], [6588, 0.72, 'H\u03b1', true]]}
];

// ---------- option building ----------
var FONT = '"Liberation Sans", Arial, sans-serif';
var IDFONT = '11px "Liberation Sans", Arial, sans-serif';
function steps(a, b, d) {
  var out = [];
  for (var i = 0; a + i * d <= b + d / 1000; i++) out.push(Math.round((a + i * d) * 1000) / 1000);
  return out;
}
var grids = [
  {left: 62, right: 2, top: 7, height: 208},
  {left: 62, right: 2, top: 279, height: 233},
  {left: 62, right: 2, top: 555, height: 233},
  {left: 62, right: 2, top: 833, height: 233}
];
grids.forEach(function (g) { g.show = true; g.borderColor = '#000'; g.borderWidth = 1.5; g.backgroundColor = 'transparent'; });

var xAxes = [], yAxes = [];
function axis(dim, gi, pos, r, len, vals, labels) {
  var a = {
    gridIndex: gi, type: 'value', position: pos, min: r.min, max: r.max,
    axisLine: {show: false}, splitLine: {show: false},
    axisTick: {show: true, inside: true, length: len, customValues: vals, lineStyle: {color: '#000', width: 1}},
    axisLabel: {show: false}
  };
  if (labels) {
    a.axisLabel = {show: true, customValues: r.major, color: '#000', fontSize: 16, fontFamily: FONT,
      margin: dim === 'x' ? 6 : 11, formatter: r.fmt};
    if (r.alignMax) a.axisLabel.alignMaxLabel = 'right';
    if (r.name) {
      a.name = r.name; a.nameLocation = 'middle'; a.nameGap = r.gap;
      a.nameTextStyle = r.nameStyle || {color: '#000', fontSize: 16, fontFamily: FONT};
    }
  }
  return a;
}
function addPanel(gi, xr, yr) {
  ['bottom', 'top'].forEach(function (p) {
    xAxes.push(axis('x', gi, p, xr, 4, xr.minor, false));
    xAxes.push(axis('x', gi, p, xr, 8, xr.major, p === 'bottom'));
  });
  ['left', 'right'].forEach(function (p) {
    yAxes.push(axis('y', gi, p, yr, 4, yr.minor, false));
    yAxes.push(axis('y', gi, p, yr, 8, yr.major, p === 'left'));
  });
}
var f1 = function (v) { return v.toFixed(1); };
var f0 = function (v) { return String(Math.round(v)); };
var nfName = 'Normalized flux';

addPanel(0,
  {min: 2.9, max: 5.0, major: sedXTicks, minor: steps(2.9, 5.0, 0.05), fmt: f1, alignMax: true, name: 'log \u03bb/\u00c5', gap: 24},
  {min: -20, max: -12, major: sedYTicks, minor: steps(-20, -12, 0.5), fmt: f0, gap: 42,
   name: '{t|log }{i|f}{s|\u03bb}{t| [erg s}{u|-1}{t| cm}{u|-2}{t| \u00c5}{u|-1}{t|]}',
   nameStyle: {color: '#000', fontFamily: FONT, rich: {
     t: {fontSize: 16, fontFamily: FONT, lineHeight: 24},
     i: {fontSize: 16, fontFamily: FONT, fontStyle: 'italic', lineHeight: 24},
     s: {fontSize: 10, fontFamily: FONT, verticalAlign: 'bottom', lineHeight: 14},
     u: {fontSize: 10, fontFamily: FONT, verticalAlign: 'top', lineHeight: 14}}}});
addPanel(1,
  {min: 1200, max: 2000, major: uvXTicks, minor: steps(1200, 2000, 20), fmt: f0, alignMax: true},
  {min: 0, max: 3, major: uvYTicks, minor: uvYTicks, fmt: f1, name: nfName, gap: 42});
addPanel(2,
  {min: 3945, max: 5040, major: optXTicks, minor: steps(3960, 5040, 20), fmt: f0},
  {min: 0, max: 1.7, major: nfYTicks, minor: steps(0, 1.7, 0.1), fmt: f1, name: nfName, gap: 42});
addPanel(3,
  {min: 5100, max: 6800, major: p4XTicks, minor: steps(5100, 6800, 50), fmt: f0, alignMax: true, name: '\u03bb/\u00c5', gap: 24},
  {min: 0, max: 1.55, major: nfYTicks, minor: steps(0, 1.5, 0.1), fmt: f1, name: nfName, gap: 42});

function line(gi, data, color, width, type, extra) {
  var s = {
    type: 'line', xAxisIndex: gi * 4, yAxisIndex: gi * 4, data: data, showSymbol: false, symbol: 'none',
    silent: true, clip: true, lineStyle: {color: color, width: width, type: type || 'solid'}
  };
  for (var k in extra) s[k] = extra[k];
  return s;
}
var unity = {markLine: {silent: true, symbol: 'none', label: {show: false}, animation: false,
  lineStyle: {color: '#a8a8a8', width: 1.5, type: 'solid'}, data: [{yAxis: 1}]}};
function ids(gi, list) {
  return {
    type: 'custom', xAxisIndex: gi * 4, yAxisIndex: gi * 4, clip: false, silent: true, z: 5,
    data: list.map(function (a) { return [a.texts[0][0], a.texts[0][1]]; }),
    renderItem: function (params, api) {
      var a = list[params.dataIndex], kids = [];
      a.segs.forEach(function (s) {
        var p = api.coord([s[0], s[1]]), q = api.coord([s[2], s[3]]);
        kids.push({type: 'line', shape: {x1: p[0], y1: p[1], x2: q[0], y2: q[1]}, style: {stroke: '#000', lineWidth: 1}});
      });
      // narrow lettering: squeeze the text along its (rotated) baseline
      a.texts.forEach(function (t) {
        var p = api.coord([t[0], t[1]]);
        kids.push({type: 'text', x: p[0], y: p[1], rotation: Math.PI / 2, scaleX: 0.8,
          style: {text: t[2], fill: '#000', font: IDFONT, align: t[3] ? 'right' : 'left', verticalAlign: 'middle'}});
      });
      return {type: 'group', children: kids};
    }
  };
}

var BLUE = '#0000ff', RED = '#ff0000', GREEN = '#006e00';
var series = [
  line(0, sedGreen, GREEN, 3, [3, 4]),
  line(0, sedBlack, '#000', 2.5),
  line(0, sedBlueUV, BLUE, 4),
  line(0, sedBlueOpt, BLUE, 4),
  {type: 'scatter', xAxisIndex: 0, yAxisIndex: 0, data: sedPhot, symbol: 'rect', symbolSize: 10, silent: true,
   itemStyle: {color: BLUE, borderColor: '#9090ff', borderWidth: 1}},
  line(0, sedRed, RED, 3, [12, 6]),

  line(1, uvGreen, GREEN, 2, [2, 3], unity),
  line(1, uvBlack, '#000', 1.2),
  line(1, uvBlue, BLUE, 2.5),
  line(1, uvRed, RED, 2.5, [10, 5]),
  ids(1, uvIds),

  line(2, optGreen, GREEN, 2, [2, 4], unity),
  line(2, optBlack, '#000', 1.2),
  line(2, optBlue, BLUE, 2.5),
  line(2, heiiBlue, BLUE, 2.5),
  line(2, optRed, RED, 2.5, [10, 5]),
  line(2, heiiRed, RED, 2.5, [10, 5]),
  ids(2, optIds),

  line(3, p4Green, GREEN, 2, [2, 4], unity),
  line(3, p4Black, '#000', 1.2),
  line(3, p4Blue, BLUE, 2.5),
  line(3, haBlue, BLUE, 2.5),
  line(3, p4Red, RED, 2.5, [10, 5]),
  line(3, haRed, RED, 2.5, [10, 5]),
  ids(3, p4Ids)
];

var chart = echarts.init(document.getElementById('main'), null, {renderer: 'canvas'});
chart.setOption({
  animation: false,
  backgroundColor: '#fff',
  title: [
    {text: 'AB 3', left: 700, top: 11, textAlign: 'center',
     textStyle: {fontSize: 29, fontWeight: 'normal', fontFamily: FONT, color: '#000'}},
    {text: '{a|WN3h + }{b|O9V}', left: 702, top: 48, textAlign: 'center',
     textStyle: {fontWeight: 'normal', rich: {
       a: {fontSize: 17, fontFamily: FONT, fontWeight: 'normal', color: '#000'},
       b: {fontSize: 17, fontFamily: FONT, fontWeight: 'normal', color: '#007a00'}}}}
  ],
  grid: grids,
  xAxis: xAxes,
  yAxis: yAxes,
  series: series
});
</script>
</body>
</html>
